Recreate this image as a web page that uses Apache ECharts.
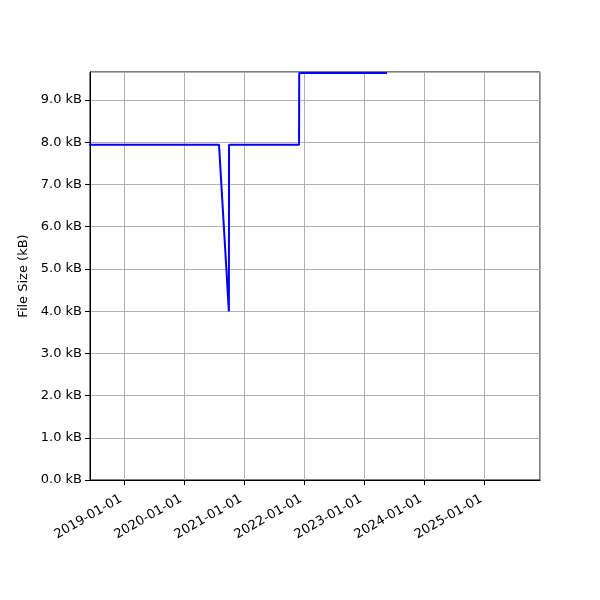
<!DOCTYPE html>
<html><head><meta charset="utf-8">
<script src="https://cdn.jsdelivr.net/npm/echarts@6/dist/echarts.min.js"></script>
<style>html,body{margin:0;padding:0;background:#fff}#c{width:600px;height:600px}</style>
</head><body><div id="c"></div>
<script>
const dates = ['2018-06-01','2020-07-30','2020-09-28','2020-09-29','2021-11-29','2021-11-30','2023-05-18'];
const sizesKB = [7.94, 7.94, 3.99, 7.94, 7.94, 9.64, 9.64];
const xRange = ['2018-06-06','2025-12-04'];
const yRange = [0, 9.665];

function ts(s){const p=s.split('-').map(Number);return new Date(p[0],p[1]-1,p[2]).getTime();}
function pad(n){return (n<10?'0':'')+n;}

const chart = echarts.init(document.getElementById('c'), null, {renderer:'canvas'});
const font = 'DejaVu Sans';
chart.setOption({
  animation:false,
  backgroundColor:'#fff',
  grid:{left:90,right:60,top:72,bottom:120,show:true,borderColor:'#000',borderWidth:1,backgroundColor:'transparent'},
  xAxis:{
    type:'time', min:ts(xRange[0]), max:ts(xRange[1]),
    minInterval:365*86400000, maxInterval:366*86400000,
    axisLine:{show:true,lineStyle:{color:'#000',width:1}},
    axisTick:{show:true,length:5,lineStyle:{color:'#000',width:1}},
    splitLine:{show:true,lineStyle:{color:'#b0b0b0',width:1}},
    axisLabel:{rotate:30,color:'#000',fontFamily:font,fontSize:13,margin:16,padding:[0,4,0,0],showMinLabel:false,showMaxLabel:false,
      formatter:function(v){const d=new Date(v);return d.getFullYear()+'-'+pad(d.getMonth()+1)+'-'+pad(d.getDate());}}
  },
  yAxis:{
    type:'value', min:yRange[0], max:yRange[1], interval:1,
    name:'File Size (kB)', nameLocation:'middle', nameGap:56,
    nameTextStyle:{color:'#000',fontFamily:font,fontSize:13},
    axisLine:{show:true,lineStyle:{color:'#000',width:1}},
    axisTick:{show:true,length:5,lineStyle:{color:'#000',width:1}},
    splitLine:{show:true,lineStyle:{color:'#b0b0b0',width:1}},
    axisLabel:{color:'#000',fontFamily:font,fontSize:13,margin:8,showMaxLabel:false,
      formatter:function(v){return v.toFixed(1)+' kB';}}
  },
  series:[{
    type:'line', showSymbol:false, clip:true,
    data:dates.map((d,i)=>[ts(d),sizesKB[i]]),
    lineStyle:{color:'#0000ff',width:2}
  }]
});
</script></body></html>
